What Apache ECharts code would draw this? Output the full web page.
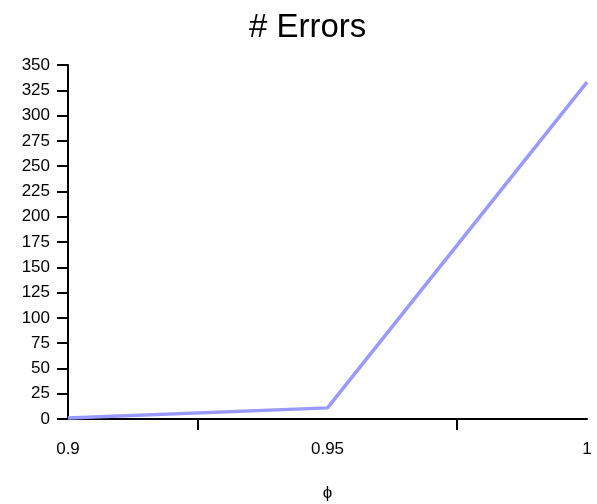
<!DOCTYPE html>
<html>
<head>
<meta charset="utf-8">
<script src="https://cdn.jsdelivr.net/npm/echarts@6/dist/echarts.min.js"></script>
<style>html,body{margin:0;padding:0;background:#fff}#c{width:597px;height:504px}</style>
</head>
<body>
<div id="c"></div>
<script>
const titleText = '# Errors';
const xName = 'ϕ';
const xValues = [0.9, 0.95, 1];
const yValues = [1, 11, 333];
const xLabelValues = [0.9, 0.95, 1];
const xTickValues = [0.925, 0.975];

const chart = echarts.init(document.getElementById('c'), null, {renderer: 'canvas'});
const font = 'Liberation Sans, Arial, sans-serif';
chart.setOption({
  animation: false,
  backgroundColor: '#fff',
  title: {text: titleText, left: 244, top: 6, textStyle: {fontFamily: font, fontSize: 33, fontWeight: 'normal', color: '#000'}},
  grid: {left: 68, right: 10, top: 65, bottom: 85, containLabel: false, outerBoundsMode: 'none'},
  xAxis: {
    type: 'value', min: 0.9, max: 1,
    name: xName, nameLocation: 'middle', nameGap: 66,
    nameTextStyle: {fontFamily: font, fontSize: 17, color: '#000'},
    axisLine: {show: true, lineStyle: {color: '#000', width: 2}},
    axisTick: {show: true, length: 11, customValues: xTickValues, lineStyle: {color: '#000', width: 2}},
    axisLabel: {customValues: xLabelValues, margin: 22, fontFamily: font, fontSize: 17, color: '#000', showMinLabel: true, showMaxLabel: true, formatter: v => String(v)},
    splitLine: {show: false}
  },
  yAxis: {
    type: 'value', min: 0, max: 350, interval: 25,
    axisLine: {show: true, lineStyle: {color: '#000', width: 2}},
    axisTick: {show: true, length: 11, lineStyle: {color: '#000', width: 2}},
    axisLabel: {margin: 18, fontFamily: font, fontSize: 17, color: '#000'},
    splitLine: {show: false}
  },
  series: [{
    type: 'line',
    data: xValues.map((x, i) => [x, yValues[i]]),
    symbol: 'none',
    lineStyle: {color: '#9999ff', width: 3.5},
    clip: false
  }]
});
</script>
</body>
</html>
